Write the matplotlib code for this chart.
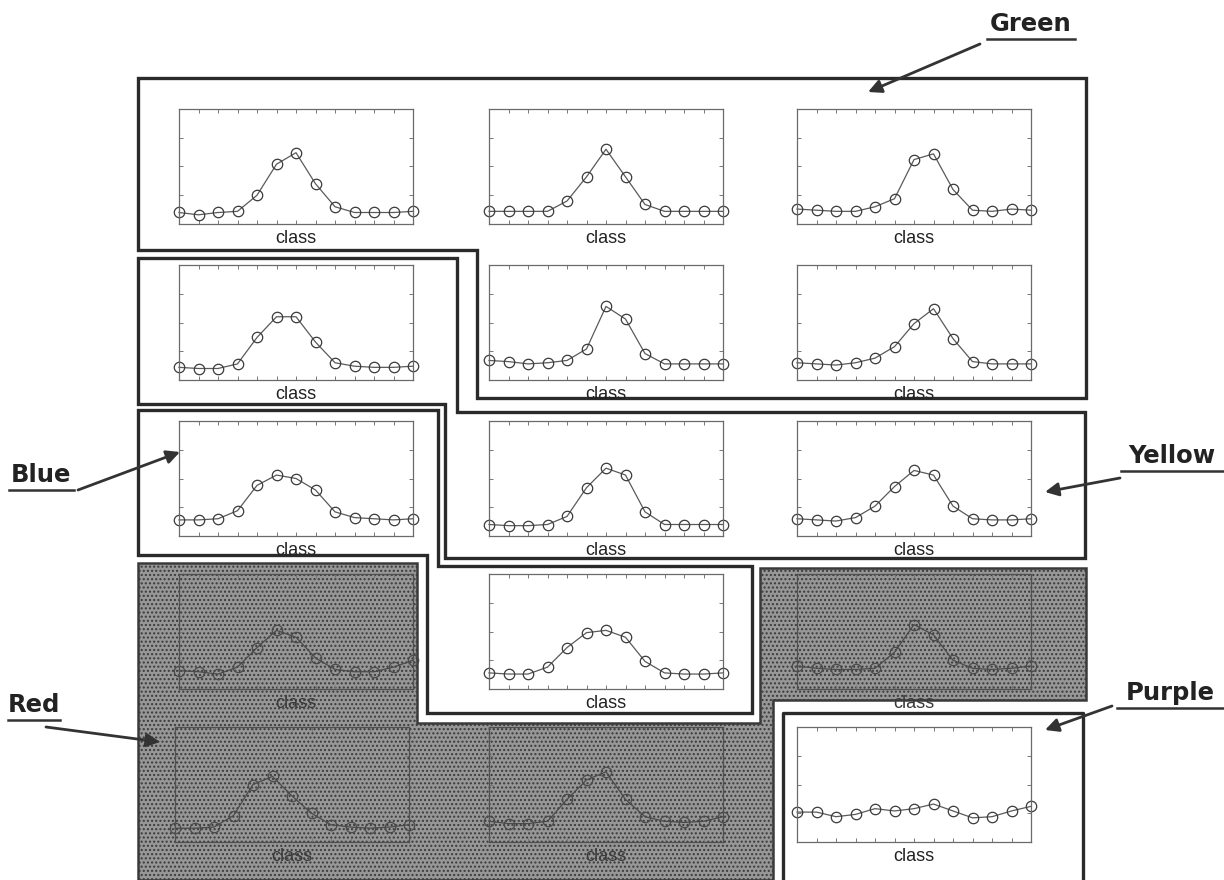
import matplotlib
matplotlib.use("Agg")
import matplotlib.pyplot as plt
from matplotlib.patches import Polygon

plt.rcParams['font.family'] = ['Liberation Sans', 'DejaVu Sans']
plt.rcParams['hatch.color'] = '#6a6a6a'

# ---------------- data (values in axes-height fraction) ----------------
classes = list(range(13))
green_1 = [0.10, 0.08, 0.10, 0.11, 0.25, 0.52, 0.62, 0.35, 0.15, 0.10, 0.10, 0.10, 0.11]
green_2 = [0.11, 0.11, 0.11, 0.11, 0.20, 0.41, 0.65, 0.41, 0.17, 0.11, 0.11, 0.11, 0.11]
green_3 = [0.13, 0.12, 0.11, 0.11, 0.15, 0.22, 0.56, 0.61, 0.30, 0.12, 0.11, 0.13, 0.12]
blue_1 = [0.11, 0.10, 0.10, 0.14, 0.37, 0.55, 0.55, 0.33, 0.15, 0.12, 0.11, 0.11, 0.12]
green_4 = [0.17, 0.16, 0.14, 0.15, 0.17, 0.27, 0.64, 0.53, 0.23, 0.14, 0.14, 0.14, 0.14]
green_5 = [0.15, 0.14, 0.13, 0.15, 0.19, 0.29, 0.49, 0.62, 0.36, 0.16, 0.14, 0.14, 0.14]
blue_2 = [0.14, 0.14, 0.15, 0.22, 0.44, 0.53, 0.50, 0.40, 0.21, 0.16, 0.15, 0.14, 0.15]
yellow_1 = [0.10, 0.09, 0.09, 0.10, 0.17, 0.42, 0.59, 0.53, 0.21, 0.10, 0.10, 0.10, 0.10]
yellow_2 = [0.15, 0.14, 0.13, 0.16, 0.26, 0.43, 0.57, 0.53, 0.26, 0.15, 0.14, 0.14, 0.15]
red_1 = [0.16, 0.15, 0.13, 0.19, 0.36, 0.51, 0.45, 0.27, 0.17, 0.15, 0.15, 0.19, 0.25]
blue_3 = [0.14, 0.13, 0.13, 0.19, 0.36, 0.49, 0.51, 0.45, 0.24, 0.14, 0.13, 0.13, 0.14]
red_2 = [0.20, 0.18, 0.17, 0.17, 0.18, 0.32, 0.56, 0.47, 0.25, 0.18, 0.17, 0.18, 0.20]
red_3 = [0.12, 0.12, 0.13, 0.23, 0.50, 0.57, 0.40, 0.25, 0.15, 0.13, 0.12, 0.13, 0.15]
red_4 = [0.18, 0.16, 0.16, 0.18, 0.37, 0.54, 0.61, 0.37, 0.22, 0.18, 0.17, 0.18, 0.22]
purple_1 = [0.26, 0.26, 0.22, 0.24, 0.29, 0.27, 0.29, 0.33, 0.27, 0.21, 0.22, 0.27, 0.31]

grid_series = [
    [green_1, green_2, green_3],
    [blue_1, green_4, green_5],
    [blue_2, yellow_1, yellow_2],
    [red_1, blue_3, red_2],
    [red_3, red_4, purple_1],
]
shaded = {(3, 0), (3, 2), (4, 0), (4, 1)}
xlabel_text = "class"
group_labels = ["Green", "Blue", "Yellow", "Red", "Purple"]

# ---------------- layout ----------------
W, H = 1224, 880
fig = plt.figure(figsize=(W / 100, H / 100), dpi=100)
bg = fig.add_axes([0, 0, 1, 1], zorder=0)
bg.set_xlim(0, W)
bg.set_ylim(H, 0)
bg.axis('off')

line_col = '#2a2a2a'
# shaded (red) region
red_poly = [(138, 563), (417, 563), (417, 723), (760, 723), (760, 568), (1086, 568),
            (1086, 700), (773, 700), (773, 880), (138, 880)]
bg.add_patch(Polygon(red_poly, closed=True, facecolor='#979797', edgecolor='#3a3a3a',
                     lw=1.8, hatch='....', zorder=1))

outlines = [
    # green
    [(138, 78), (1086, 78), (1086, 398), (477, 398), (477, 250), (138, 250)],
    # blue upper + yellow
    [(138, 258), (457, 258), (457, 412), (1085, 412), (1085, 558), (445, 558),
     (445, 404), (138, 404)],
    # blue lower
    [(138, 410), (438, 410), (438, 566), (752, 566), (752, 713), (427, 713),
     (427, 555), (138, 555)],
]
for pts in outlines:
    bg.add_patch(Polygon(pts, closed=True, facecolor='none', edgecolor=line_col,
                         lw=2.4, zorder=2))
# purple box (open at bottom edge of page)
bg.plot([783, 783, 1083, 1083], [882, 713, 713, 882], color=line_col, lw=2.4, zorder=2)

col_left = [179, 489, 797]
col_w = 234
row_top = [109, 265, 421, 574, 727]
row_h = 115

for r in range(5):
    for c in range(3):
        sh = (r, c) in shaded
        left = col_left[c] - (4 if (r == 4 and c == 0) else 0)
        ax = fig.add_axes([left / W, 1 - (row_top[r] + row_h) / H,
                           col_w / W, row_h / H], zorder=3)
        ax.patch.set_alpha(0)
        fg = '#4a4a4a' if sh else '#5a5a5a'
        ax.plot(classes, grid_series[r][c], color=fg, lw=0.9, marker='o', ms=7.5,
                mfc='none', mec='#3a3a3a' if not sh else '#4a4a4a', mew=0.9,
                clip_on=False)
        ax.set_xlim(0, 12)
        ax.set_ylim(0, 1)
        ax.set_xticks(classes)
        ax.set_yticks([0.25, 0.5, 0.75])
        ax.tick_params(direction='in', length=3, width=0.7, colors='#777777',
                       top=True, right=True, labelbottom=False, labelleft=False)
        for s in ax.spines.values():
            s.set_color('#6a6a6a' if not sh else '#505050')
            s.set_linewidth(0.9)
        ax.set_xlabel(xlabel_text, fontsize=13, labelpad=4,
                      color='#222222' if not sh else '#3a3a3a')

# ---------------- group labels with arrows ----------------
label_pos = {
    "Green": (1031, 24),
    "Blue": (41, 475),
    "Yellow": (1172, 456),
    "Red": (34, 705),
    "Purple": (1170, 693),
}
label_width = {"Green": 88, "Blue": 65, "Yellow": 102, "Red": 52, "Purple": 106}
arrows = {
    "Green": ((980, 44), (868, 92)),
    "Blue": ((78, 490), (180, 452)),
    "Yellow": ((1120, 478), (1045, 492)),
    "Red": ((46, 727), (160, 742)),
    "Purple": ((1112, 706), (1045, 730)),
}
for name in group_labels:
    x, y = label_pos[name]
    bg.text(x, y, name, fontsize=17.5, fontweight='bold', ha='center', va='center',
            color='#222222', zorder=5, family=['DejaVu Sans'])
    hw = label_width[name] / 2
    bg.plot([x - hw, x + hw], [y + 15, y + 15], color='#333333', lw=1.8, zorder=5)
    (sx, sy), (tx, ty) = arrows[name]
    bg.annotate('', xy=(tx, ty), xytext=(sx, sy),
                arrowprops=dict(arrowstyle='-|>', color='#333333', lw=2.0,
                                mutation_scale=20, shrinkA=0, shrinkB=0), zorder=5)

fig.savefig('out.png', dpi=100)
